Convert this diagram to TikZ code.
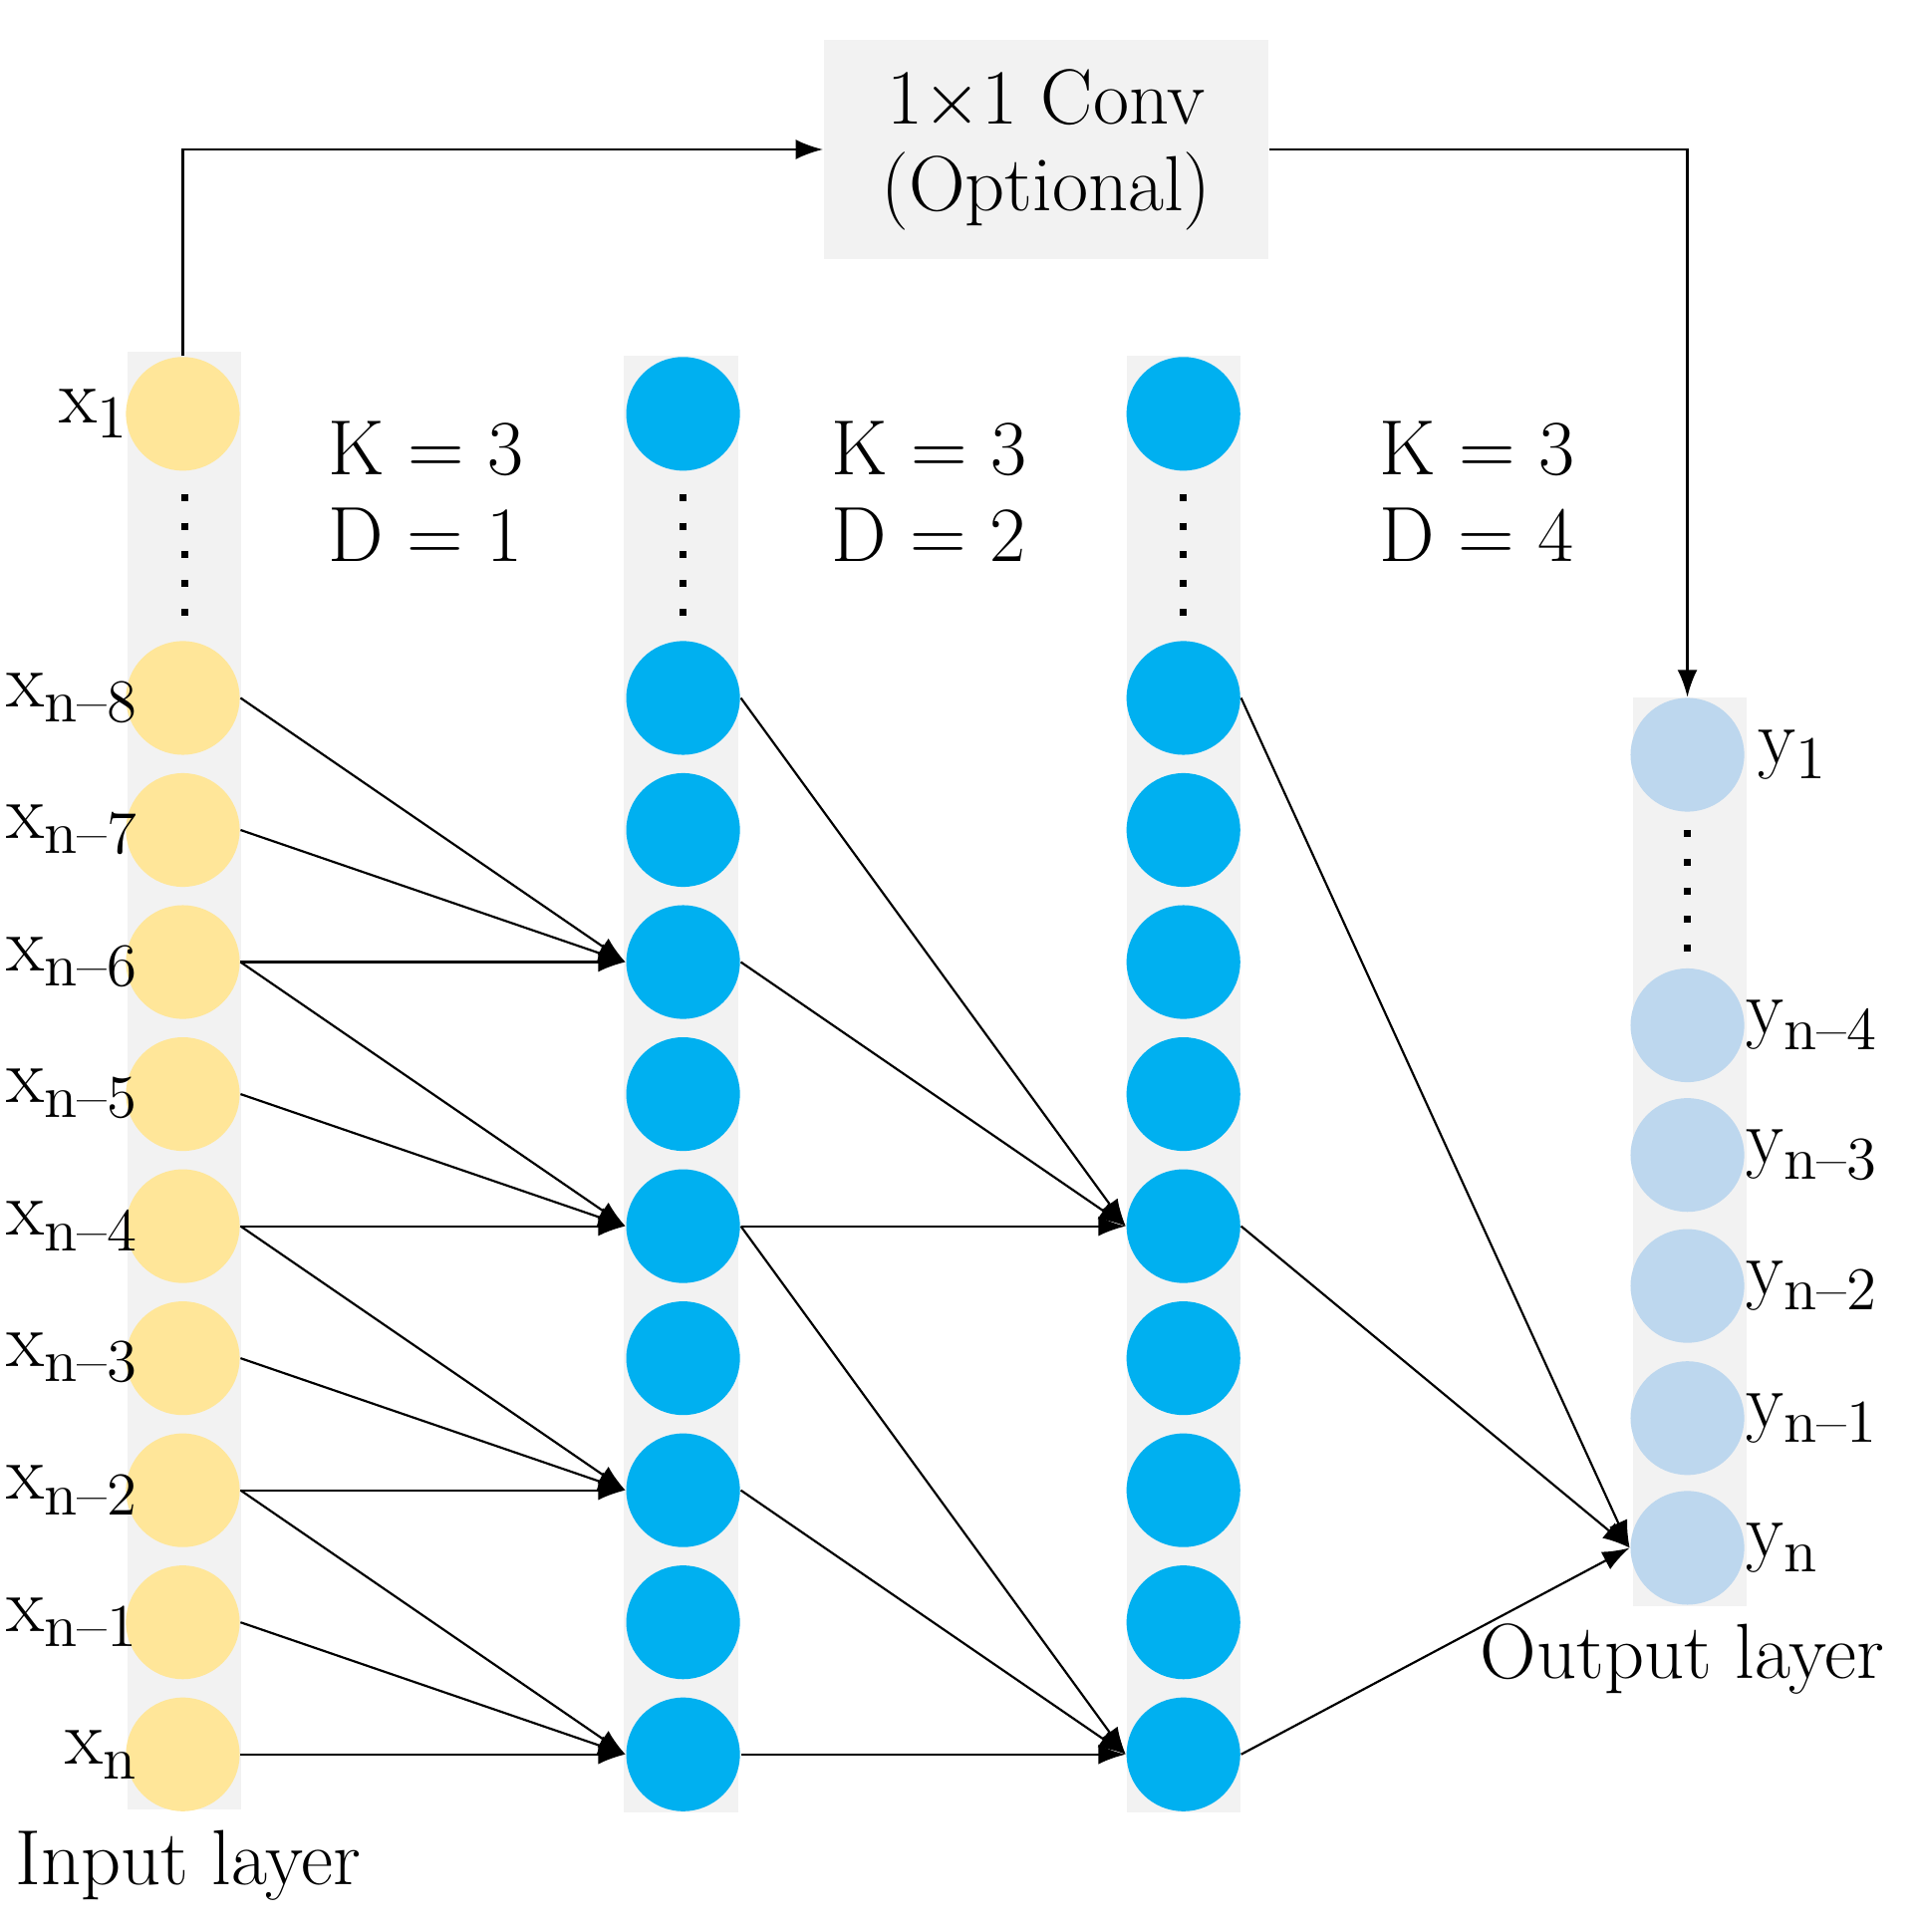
\documentclass[tikz,border=0pt]{standalone}
\usepackage{tikz}
\usetikzlibrary{arrows.meta, positioning, calc}
\definecolor{inyellow}{RGB}{255,230,153}
\definecolor{hidblue}{RGB}{0,176,240}
\definecolor{outblue}{RGB}{189,215,238}
\definecolor{stripgray}{RGB}{242,242,242}
\newcommand{\subidx}[1]{\raisebox{-0.45ex}{\fontsize{14}{15}\selectfont #1}}
\tikzset{
	unit/.style = {circle, minimum size=0.92cm, inner sep=0pt},
	conn/.style = {-{Latex[length=2.2mm, width=1.6mm]}, line width=0.5pt},
	lbl/.style = {font=\fontsize{18}{20}\selectfont}
}
\begin{document}
\begin{tikzpicture}[x=0.01cm, y=-0.01cm]
	\useasboundingbox (0,0) rectangle (1552,1564);
	% gray strips
	\fill [stripgray] (103,285) rectangle (195,1465);
	\fill [stripgray] (505,288) rectangle (598,1467);
	\fill [stripgray] (912,288) rectangle (1004,1467);
	\fill [stripgray] (1322,565) rectangle (1414,1300);
	\node [fill=stripgray, minimum width=3.6cm, minimum height=1.78cm, lbl, align=center] (conv) at (847,121) {1$\times$1 Conv\\(Optional)};
	% columns of units
	\node [unit, fill=inyellow] (a0) at (148,335) {};
	\node [unit, fill=hidblue] (b0) at (553,335) {};
	\node [unit, fill=hidblue] (c0) at (958,335) {};
	\foreach \i [evaluate=\i as \yy using 565+(\i-1)*106.9] in {1,...,9} {
		\node [unit, fill=inyellow] (a\i) at (148,\yy) {};
		\node [unit, fill=hidblue] (b\i) at (553,\yy) {};
		\node [unit, fill=hidblue] (c\i) at (958,\yy) {};
	}
	\node [unit, fill=outblue] (o0) at (1366,611) {};
	\foreach \i/\yy in {1/830,2/935,3/1041,4/1148,5/1253}
		\node [unit, fill=outblue] (o\i) at (1366,\yy) {};
	% dots
	\foreach \xx in {150,553,958}
		\draw [line width=1.6pt, dash pattern=on 1.6pt off 5pt] (\xx,400) -- (\xx,500);
	\draw [line width=1.6pt, dash pattern=on 1.6pt off 5pt] (1366,672) -- (1366,772);
	% labels
	\node [lbl, anchor=east, inner sep=0pt] at ([xshift=0.02cm]a0.west) {x\subidx{1}};
	\foreach \i/\s in {1/n--8,2/n--7,3/n--6,4/n--5,5/n--4,6/n--3,7/n--2,8/n--1,9/n}
		\node [lbl, anchor=east, inner sep=0pt] at ([xshift=0.1cm]a\i.west) {x\subidx{\s}};
	\node [lbl, anchor=west, inner sep=0pt] at ([xshift=0.1cm]o0.east) {y\subidx{1}};
	\foreach \i/\s in {1/n--4,2/n--3,3/n--2,4/n--1,5/n}
		\node [lbl, anchor=west, inner sep=0pt] at (o\i.east) {y\subidx{\s}};
	\node [lbl, align=left] at (345,398) {K = 3\\D = 1};
	\node [lbl, align=left] at (752,398) {K = 3\\D = 2};
	\node [lbl, align=left] at (1196,398) {K = 3\\D = 4};
	\node [lbl, anchor=west] at (0,1510) {Input layer};
	\node [lbl] at (1362,1343) {Output layer};
	% skip path
	\draw [conn] (a0.north) |- (conv.west);
	\draw [conn] (conv.east) -| (o0.north);
	% dilated connections
	\foreach \t in {3,5,7,9} {
		\pgfmathtruncatemacro{\ta}{\t-2}
		\pgfmathtruncatemacro{\tb}{\t-1}
		\draw [conn] (a\ta.east) -- (b\t.west);
		\draw [conn] (a\tb.east) -- (b\t.west);
		\draw [conn] (a\t.east) -- (b\t.west);
	}
	\foreach \t in {5,9} {
		\pgfmathtruncatemacro{\ta}{\t-4}
		\pgfmathtruncatemacro{\tb}{\t-2}
		\draw [conn] (b\ta.east) -- (c\t.west);
		\draw [conn] (b\tb.east) -- (c\t.west);
		\draw [conn] (b\t.east) -- (c\t.west);
	}
	\draw [conn] (c1.east) -- (o5.west);
	\draw [conn] (c5.east) -- (o5.west);
	\draw [conn] (c9.east) -- (o5.west);
\end{tikzpicture}
\end{document}
